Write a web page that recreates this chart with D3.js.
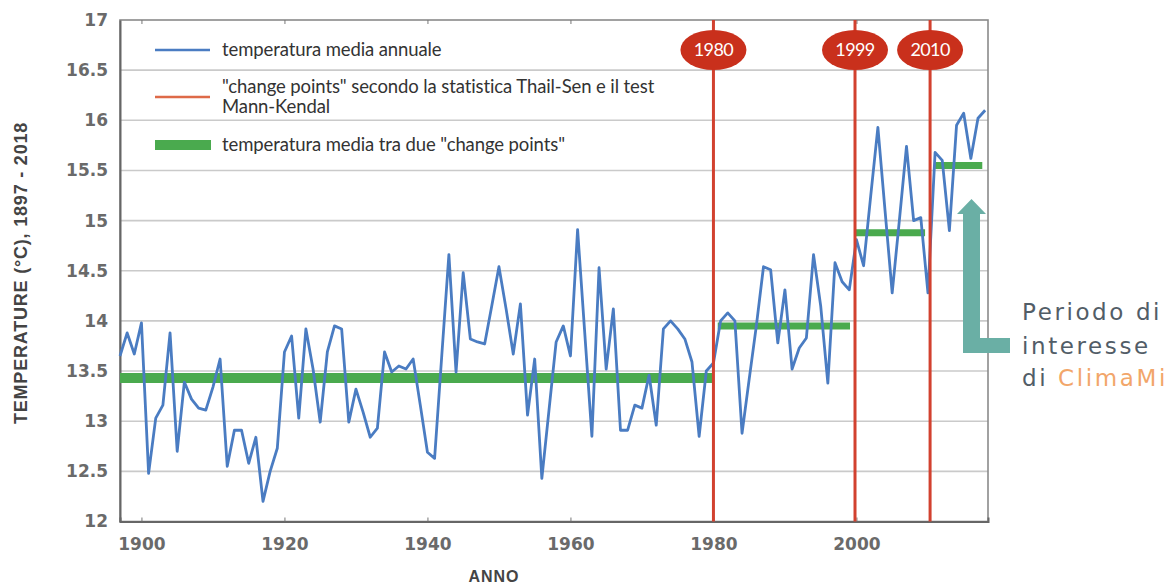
<!DOCTYPE html>
<html>
<head>
<meta charset="utf-8">
<script src="https://cdn.jsdelivr.net/npm/d3@7"></script>
<style>
  body { margin: 0; background: #fff; }
  svg { display: block; }
</style>
</head>
<body>
<svg id="canvas" width="1169" height="585"></svg>
<script>
// annual mean temperature, one value per year starting 1897
var firstYear = 1897
var temps = [
  13.65, 13.88, 13.67,
  13.98, 12.48, 13.03, 13.16, 13.88, 12.70, 13.39, 13.22, 13.13, 13.11,
  13.34, 13.62, 12.55, 12.91, 12.91, 12.58, 12.84, 12.20, 12.50, 12.73,
  13.69, 13.85, 13.03, 13.92, 13.52, 12.99, 13.69, 13.95, 13.92, 12.99,
  13.32, 13.09, 12.84, 12.93, 13.69, 13.49, 13.55, 13.52, 13.62, 13.16,
  12.69, 12.63, 13.65, 14.66, 13.49, 14.48, 13.82, 13.79, 13.77, 14.15,
  14.54, 14.12, 13.67, 14.17, 13.06, 13.62, 12.43, 13.11, 13.79, 13.95,
  13.65, 14.91, 13.88, 12.85, 14.53, 13.52, 14.12, 12.91, 12.91, 13.16,
  13.13, 13.46, 12.96, 13.92, 14.00, 13.92, 13.82, 13.59, 12.85, 13.50,
  13.58, 14.00, 14.08, 14.00, 12.88, 13.42, 13.95, 14.54, 14.51, 13.78,
  14.31, 13.52, 13.73, 13.83, 14.66, 14.15, 13.38, 14.58, 14.39, 14.31,
  14.81, 14.55, 15.25, 15.93, 15.10, 14.28, 15.00, 15.74, 15.00, 15.03,
  14.28, 15.68, 15.60, 14.90, 15.95, 16.07, 15.62, 16.02, 16.10
]

// change points (label and where the line sits)
var changeLabels = ['1980', '1999', '2010']
var changeAt = [1980, 1999.8, 2010.3]

// mean temperature between change points
var segFrom = [1897, 1980.6, 1999.9, 2011]
var segTo = [1980, 1999.1, 2009.6, 2017.6]
var segMean = [13.43, 13.95, 14.88, 15.55]

var xTicks = [1900, 1920, 1940, 1960, 1980, 2000]
var yTicks = [12, 12.5, 13, 13.5, 14, 14.5, 15, 15.5, 16, 16.5, 17]

var legendLines = [
  ['temperatura media annuale'],
  ['"change points" secondo la statistica Thail-Sen e il test', 'Mann-Kendal'],
  ['temperatura media tra due "change points"']
]

var blue = '#4a7cc2'
var red = '#d2412f'
var green = '#4aaa4e'

var canvas = d3.select('#canvas')
var x = d3.scaleLinear().domain([1897, 2018.4]).range([120, 988])
var y = d3.scaleLinear().domain([12, 17]).range([521.5, 20])

var series = temps.map(function(t, i) { return { year: firstYear + i, t: t } })

// grid
canvas.append('g')
  .selectAll('line')
  .data(yTicks.slice(1, -1))
  .enter()
  .append('line')
  .attr('x1', x.range()[0])
  .attr('x2', x.range()[1])
  .attr('y1', function(d) { return y(d) })
  .attr('y2', function(d) { return y(d) })
  .style('stroke', '#cacaca')
  .style('stroke-width', 1.6)

// frame
canvas.append('rect')
  .attr('x', 120).attr('y', 20)
  .attr('width', 868).attr('height', 501.5)
  .attr('fill', 'none')
  .style('stroke', '#8a8a8a')
  .style('stroke-width', 1.6)

// axes
var tickFont = function(sel) {
  sel.style('font-family', 'DejaVu Sans, sans-serif')
    .style('font-size', '17px')
    .style('font-weight', 'bold')
    .attr('fill', '#6a6a6a')
}

var yAxis = d3.axisLeft(y).tickValues(yTicks).tickSize(0).tickPadding(12)
  .tickFormat(function(d) { return String(d) })
canvas.append('g')
  .attr('transform', 'translate(120,0)')
  .call(yAxis)
  .call(function(g) {
    g.select('.domain').style('stroke', '#666').style('stroke-width', 2)
    g.selectAll('text').call(tickFont)
  })

var xAxis = d3.axisBottom(x).tickValues(xTicks).tickSize(-4).tickPadding(16)
  .tickFormat(d3.format('d'))
canvas.append('g')
  .attr('transform', 'translate(0,521.5)')
  .call(xAxis)
  .call(function(g) {
    g.select('.domain').style('stroke', '#666').style('stroke-width', 2)
    g.selectAll('line').style('stroke', '#777')
    g.selectAll('text').call(tickFont)
  })

canvas.append('g')
  .attr('transform', 'translate(0,20)')
  .call(d3.axisTop(x).tickValues(xTicks).tickSize(-4).tickFormat(''))
  .call(function(g) {
    g.select('.domain').remove()
    g.selectAll('line').style('stroke', '#777')
  })

// axis titles
canvas.append('text')
  .attr('x', 494).attr('y', 582)
  .attr('text-anchor', 'middle')
  .style('font-family', 'Liberation Sans, Arial, sans-serif')
  .style('font-size', '16px')
  .style('font-weight', 'bold')
  .style('letter-spacing', '1px')
  .attr('fill', '#444')
  .text('ANNO')

canvas.append('text')
  .attr('transform', 'translate(27,273) rotate(-90)')
  .attr('text-anchor', 'middle')
  .style('font-family', 'Liberation Sans, Arial, sans-serif')
  .style('font-size', '18px')
  .style('font-weight', 'bold')
  .style('letter-spacing', '0.8px')
  .attr('fill', '#444')
  .text('TEMPERATURE (°C), 1897 - 2018')

// mean between change points
canvas.append('g')
  .selectAll('line')
  .data(segMean)
  .enter()
  .append('line')
  .attr('x1', function(d, i) { return x(segFrom[i]) })
  .attr('x2', function(d, i) { return x(segTo[i]) })
  .attr('y1', function(d) { return y(d) })
  .attr('y2', function(d) { return y(d) })
  .style('stroke', green)
  .style('stroke-width', function(d, i) { return i ? 7 : 10 })

// temperature line
canvas.append('path')
  .datum(series)
  .attr('fill', 'none')
  .style('stroke', blue)
  .style('stroke-width', 2.8)
  .style('stroke-linejoin', 'round')
  .attr('d', d3.line()
    .x(function(d) { return x(d.year) })
    .y(function(d) { return y(d.t) }))

// change points
var cp = canvas.append('g')
  .selectAll('g')
  .data(changeAt)
  .enter()
  .append('g')
cp.append('line')
  .attr('x1', function(d) { return x(d) })
  .attr('x2', function(d) { return x(d) })
  .attr('y1', y(17))
  .attr('y2', y(12))
  .style('stroke', red)
  .style('stroke-width', 3)
cp.append('ellipse')
  .attr('cx', function(d) { return x(d) })
  .attr('cy', 50)
  .attr('rx', 33)
  .attr('ry', 20)
  .attr('fill', '#c9301c')
cp.append('text')
  .attr('x', function(d) { return x(d) })
  .attr('y', 56)
  .attr('text-anchor', 'middle')
  .style('font-family', 'Lato, sans-serif')
  .style('font-size', '18px')
  .style('letter-spacing', '-0.6px')
  .attr('fill', '#fff')
  .text(function(d, i) { return changeLabels[i] })

// legend
var lg = canvas.append('g')
lg.append('line')
  .attr('x1', 155).attr('x2', 210).attr('y1', 50).attr('y2', 50)
  .style('stroke', blue).style('stroke-width', 2.5)
lg.append('line')
  .attr('x1', 155).attr('x2', 210).attr('y1', 97).attr('y2', 97)
  .style('stroke', '#de6a48').style('stroke-width', 2.5)
lg.append('rect')
  .attr('x', 155).attr('y', 140).attr('width', 56).attr('height', 10)
  .attr('fill', green)

var legendY = [56, 93, 151]
legendLines.forEach(function(lines, i) {
  var t = lg.append('text')
    .attr('x', 222)
    .attr('y', legendY[i])
    .style('font-family', 'Lato, sans-serif')
    .style('font-size', '18.5px')
    .style('letter-spacing', '-0.1px')
    .attr('fill', '#333')
  lines.forEach(function(s, j) {
    t.append('tspan').attr('x', 222).attr('dy', j ? 20 : 0).text(s)
  })
})

// "periodo di interesse" callout
canvas.append('path')
  .attr('d', 'M963,353 L963,214 L957,214 L971.5,199 L986,214 L980,214 L980,338 L1010,338 L1010,353 Z')
  .attr('fill', '#6aafa5')

var note = canvas.append('text')
  .style('font-family', 'DejaVu Sans, sans-serif')
  .style('font-size', '23px')
  .style('letter-spacing', '2.6px')
  .attr('fill', '#525d67')
note.append('tspan').attr('x', 1022).attr('y', 320).text('Periodo di')
note.append('tspan').attr('x', 1022).attr('y', 354).text('interesse')
var last = note.append('tspan').attr('x', 1022).attr('y', 386)
last.text('di ')
note.append('tspan').attr('fill', '#f2a66a').text('ClimaMi')
</script>
</body>
</html>
